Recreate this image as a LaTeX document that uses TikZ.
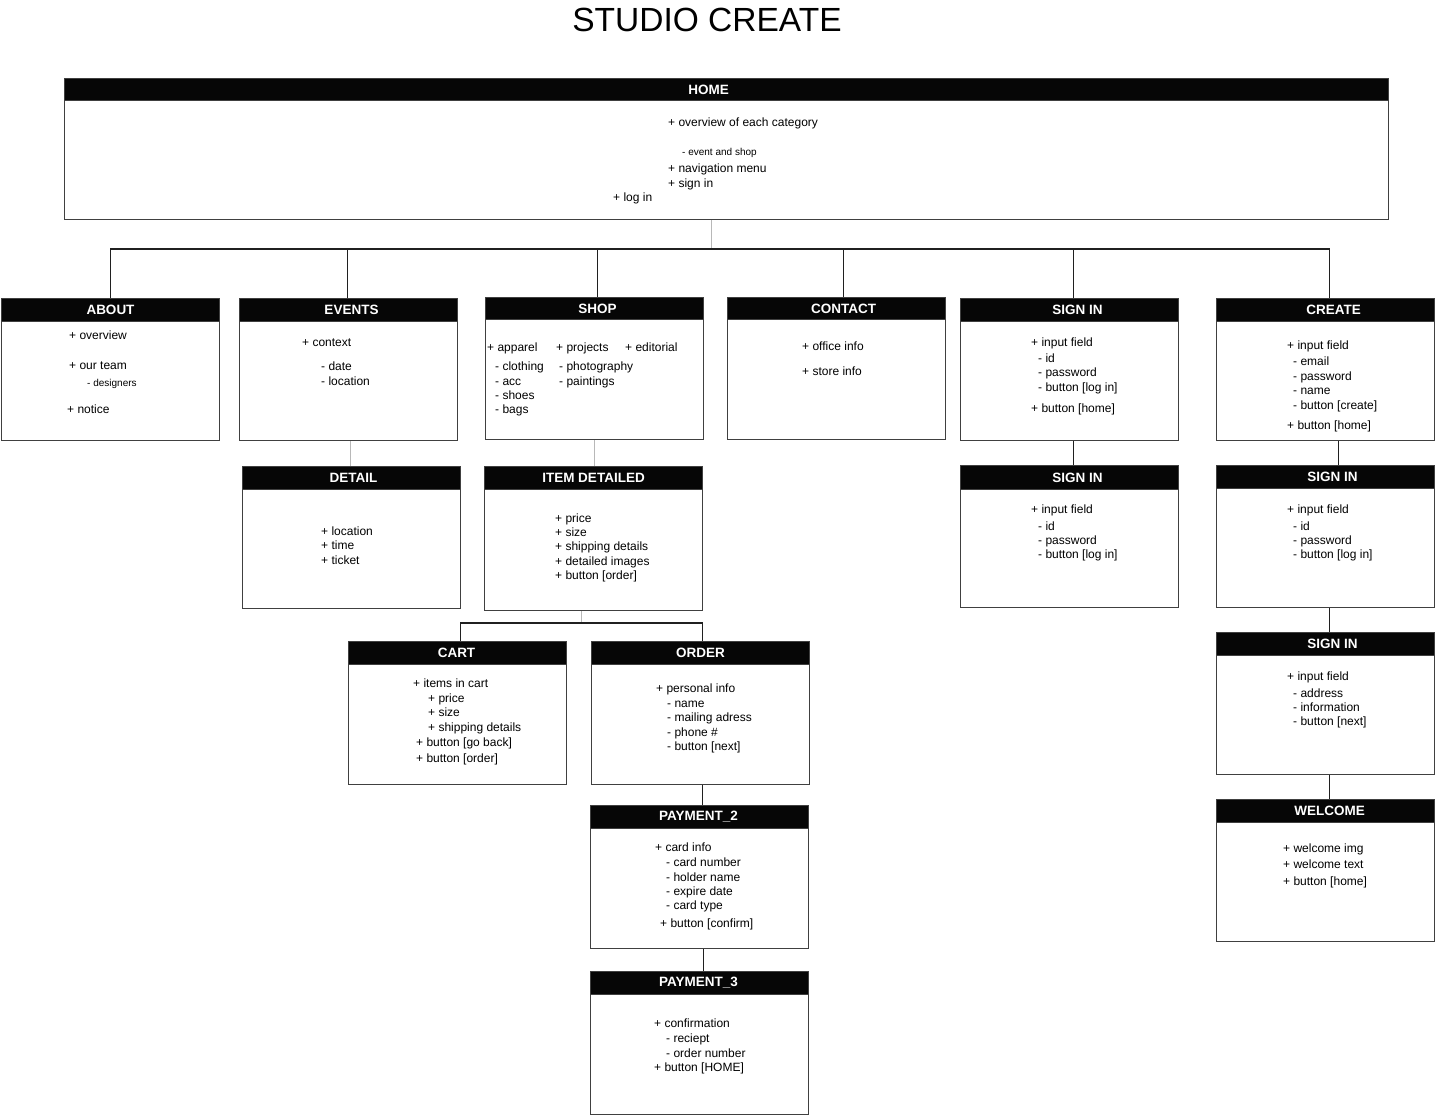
\documentclass[tikz,border=0pt]{standalone}
\usepackage{fontspec}
\setmainfont{Liberation Sans}
\definecolor{boxgray}{HTML}{404040}
\definecolor{hdrblack}{HTML}{060606}
\definecolor{linkblack}{HTML}{202020}
\definecolor{faintgray}{HTML}{B8B8B8}
\newcounter{tn}
\newcommand\tl[3]{\stepcounter{tn}\node[tx] (t\arabic{tn}) at (#1,{#2+4}) {#3};}
\newcommand\ts[3]{\stepcounter{tn}\node[sm] (t\arabic{tn}) at (#1,{#2+3.5}) {#3};}
\newcommand\screen[8]{%
  \node[bodybox, minimum width=#5pt, minimum height={(#6-#3)*1pt}] (#1) at (#2,#3) {};
  \node[hdr, minimum width=#5pt, minimum height={(#4-#3)*1pt}] (#1-h) at (#2,#3) {\hspace*{#8pt}#7};}
\tikzset{
  bodybox/.style={draw=boxgray, line width=1.3pt, fill=white, anchor=north west, inner sep=0pt},
  hdr/.style={fill=hdrblack, draw=boxgray, line width=1pt, anchor=north west, text=white,
              font=\fontsize{13.5}{15}\selectfont\bfseries, inner sep=0pt},
  tx/.style={anchor=base west, inner sep=0pt, font=\fontsize{12}{14}\selectfont},
  sm/.style={anchor=base west, inner sep=0pt, font=\fontsize{10}{12}\selectfont},
  link/.style={draw=linkblack, line width=1.2pt},
  faint/.style={draw=faintgray, line width=1pt},
  ttl/.style={inner sep=0pt, font=\fontsize{33.5}{40}\selectfont},
}
\begin{document}
\begin{tikzpicture}[x=1pt,y=-1pt]
\useasboundingbox[fill=white] (0,0) rectangle (1435,1116);
\node[ttl] (title) at (707,20) {STUDIO CREATE};

% boxes
\screen{home}{64}{78}{100}{1324}{219}{HOME}{-36}
\screen{about}{1}{298}{321}{218}{440}{ABOUT}{0}
\screen{events}{239}{298}{321}{218}{440}{EVENTS}{6}
\screen{shop}{485}{297}{319}{218}{439}{SHOP}{6}
\screen{contact}{727}{297}{319}{218}{439}{CONTACT}{14}
\screen{signin}{960}{298}{321}{218}{440}{SIGN IN}{16}
\screen{create}{1216}{298}{321}{218}{440}{CREATE}{16}
\screen{detail}{242}{466}{489}{218}{608}{DETAIL}{4}
\screen{item}{484}{466}{489}{218}{610}{ITEM DETAILED}{0}
\screen{signinb}{960}{465}{489}{218}{607}{SIGN IN}{16}
\screen{cb}{1216}{465}{488}{218}{607}{SIGN IN}{14}
\screen{cc}{1216}{632}{655}{218}{774}{SIGN IN}{14}
\screen{welcome}{1216}{799}{822}{218}{941}{WELCOME}{8}
\screen{cart}{348}{641}{664}{218}{784}{CART}{-2}
\screen{order}{591}{641}{664}{218}{784}{ORDER}{0}
\screen{pay2}{590}{805}{828}{218}{948}{PAYMENT\_2}{-2}
\screen{pay3}{590}{971}{994}{218}{1114}{PAYMENT\_3}{-2}

% connectors
\coordinate (bus) at (711,249);
\draw[faint] (home.south -| bus) -- (bus);
\draw[link] (about.north) -- (about.north |- bus) -- ([xshift=4pt]create.north |- bus) -- ([xshift=4pt]create.north);
\draw[link] ([xshift=-1pt]events.north) -- ([xshift=-1pt]events.north |- bus);
\draw[link] ([xshift=3pt]shop.north) -- ([xshift=3pt]shop.north |- bus);
\draw[link] ([xshift=7pt]contact.north) -- ([xshift=7pt]contact.north |- bus);
\draw[link] ([xshift=4pt]signin.north) -- ([xshift=4pt]signin.north |- bus);
\draw[faint] ([xshift=-1pt]detail.north |- events.south) -- ([xshift=-1pt]detail.north);
\draw[faint] ([xshift=1pt]item.north |- shop.south) -- ([xshift=1pt]item.north);
\draw[link] ([xshift=4pt]signin.south) -- ([xshift=4pt]signinb.north);
\draw[link] ([xshift=13pt]create.south) -- ([xshift=13pt]cb.north);
\draw[link] ([xshift=4pt]cb.south) -- ([xshift=4pt]cc.north);
\draw[link] ([xshift=4pt]cc.south) -- ([xshift=4pt]welcome.north);
\coordinate (jn) at (581,623);
\draw[faint] (item.south -| jn) -- (jn);
\draw[link] ([xshift=3pt]cart.north) |- (jn) -| ([xshift=2pt]order.north);
\draw[link] ([xshift=2pt]order.south) -- ([xshift=2pt]order.south |- pay2.north);
\draw[link] ([xshift=4pt]pay2.south) -- ([xshift=4pt]pay3.north);

% HOME
\tl{668}{122}{+ overview of each category}
\ts{682}{152}{- event and shop}
\tl{668}{168}{+ navigation menu}
\tl{668}{183}{+ sign in}
\tl{613}{197}{+ log in}
% ABOUT
\tl{69}{335}{+ overview}
\tl{69}{365}{+ our team}
\ts{87}{383}{- designers}
\tl{67}{409}{+ notice}
% EVENTS
\tl{302}{342}{+ context}
\tl{321}{366}{- date}
\tl{321}{381}{- location}
% SHOP
\tl{487}{347}{+ apparel}
\tl{556}{347}{+ projects}
\tl{625}{347}{+ editorial}
\tl{495}{366}{- clothing}
\tl{559}{366}{- photography}
\tl{495}{381}{- acc}
\tl{559}{381}{- paintings}
\tl{495}{395}{- shoes}
\tl{495}{409}{- bags}
% CONTACT
\tl{802}{346}{+ office info}
\tl{802}{371}{+ store info}
% SIGN IN
\tl{1031}{342}{+ input field}
\tl{1038}{358}{- id}
\tl{1038}{372}{- password}
\tl{1038}{387}{- button [log in]}
\tl{1031}{408}{+ button [home]}
% CREATE
\tl{1287}{345}{+ input field}
\tl{1293}{361}{- email}
\tl{1293}{376}{- password}
\tl{1293}{390}{- name}
\tl{1293}{405}{- button [create]}
\tl{1287}{425}{+ button [home]}
% DETAIL
\tl{321}{531}{+ location}
\tl{321}{545}{+ time}
\tl{321}{560}{+ ticket}
% ITEM DETAILED
\tl{555}{518}{+ price}
\tl{555}{532}{+ size}
\tl{555}{546}{+ shipping details}
\tl{555}{561}{+ detailed images}
\tl{555}{575}{+ button [order]}
% SIGN IN 2
\tl{1031}{509}{+ input field}
\tl{1038}{526}{- id}
\tl{1038}{540}{- password}
\tl{1038}{554}{- button [log in]}
% SIGN IN (create chain)
\tl{1287}{509}{+ input field}
\tl{1293}{526}{- id}
\tl{1293}{540}{- password}
\tl{1293}{554}{- button [log in]}
% SIGN IN 3
\tl{1287}{676}{+ input field}
\tl{1293}{693}{- address}
\tl{1293}{707}{- information}
\tl{1293}{721}{- button [next]}
% WELCOME
\tl{1283}{848}{+ welcome img}
\tl{1283}{864}{+ welcome text}
\tl{1283}{881}{+ button [home]}
% CART
\tl{413}{683}{+ items in cart}
\tl{428}{698}{+ price}
\tl{428}{712}{+ size}
\tl{428}{727}{+ shipping details}
\tl{416}{742}{+ button [go back]}
\tl{416}{758}{+ button [order]}
% ORDER
\tl{656}{688}{+ personal info}
\tl{667}{703}{- name}
\tl{667}{717}{- mailing adress}
\tl{667}{732}{- phone \#}
\tl{667}{746}{- button [next]}
% PAYMENT_2
\tl{655}{847}{+ card info}
\tl{666}{862}{- card number}
\tl{666}{877}{- holder name}
\tl{666}{891}{- expire date}
\tl{666}{905}{- card type}
\tl{660}{923}{+ button [confirm]}
% PAYMENT_3
\tl{654}{1023}{+ confirmation}
\tl{666}{1038}{- reciept}
\tl{666}{1053}{- order number}
\tl{654}{1067}{+ button [HOME]}
\end{tikzpicture}
\end{document}
